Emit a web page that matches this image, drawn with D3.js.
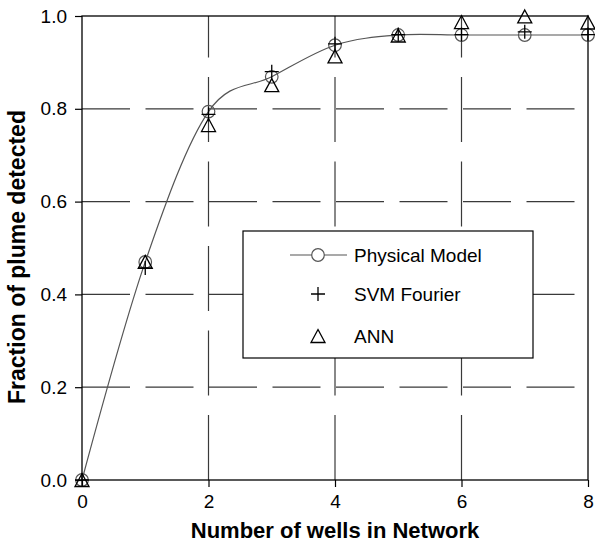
<!DOCTYPE html>
<html>
<head>
<meta charset="utf-8">
<script src="https://cdn.jsdelivr.net/npm/d3@7"></script>
<style>
  body { margin: 0; background: #fff; }
  text { font-family: Arial, "Liberation Sans", sans-serif; fill: #000; }
</style>
</head>
<body>
<div id="chart"></div>
<script>
// values
var wells = [0, 1, 2, 3, 4, 5, 6, 7, 8];
var physicalModel = [0, 0.47, 0.794, 0.869, 0.937, 0.959, 0.959, 0.959, 0.959];
var svmFourier = [0, 0.457, 0.788, 0.88, 0.94, 0.96, 0.96, 0.966, 0.96];
var ann = [0, 0.47, 0.765, 0.851, 0.913, 0.958, 0.987, 0.999, 0.986];
var xTicks = [0, 2, 4, 6, 8];
var yTicks = [0, 0.2, 0.4, 0.6, 0.8, 1.0];
var legendLabels = ["Physical Model", "SVM Fourier", "ANN"];

var W = 595, H = 544;
var margin = { left: 82, right: 7, top: 16, bottom: 64 };

var svg = d3.select('#chart').append('svg')
    .attr('width', W).attr('height', H);

var x = d3.scaleLinear().domain([0, 8]).range([margin.left, W - margin.right]);
var y = d3.scaleLinear().domain([0, 1]).range([H - margin.bottom, margin.top]);

var gridColor = '#3a3a3a';

// horizontal gridlines (dashes start at the left axis)
svg.append('g').selectAll('line')
    .data(yTicks.filter(function (d) { return d > 0 && d < 1; }))
    .join('line')
    .attr('x1', x(0)).attr('x2', x(8))
    .attr('y1', d => y(d)).attr('y2', d => y(d))
    .attr('stroke', gridColor).attr('stroke-width', 1.2)
    .attr('stroke-dasharray', '48,15.5');

// vertical gridlines (dashes start at the bottom)
svg.append('g').selectAll('line')
    .data(xTicks.filter(function (d) { return d > 0 && d < 8; }))
    .join('line')
    .attr('x1', d => x(d)).attr('x2', d => x(d))
    .attr('y1', y(0)).attr('y2', y(1))
    .attr('stroke', gridColor).attr('stroke-width', 1.2)
    .attr('stroke-dasharray', '65,19.5');

// axes
var yAxis = d3.axisLeft(y).tickValues(yTicks).tickFormat(d3.format('.1f'))
    .tickSize(7).tickPadding(8);
var xAxis = d3.axisBottom(x).tickValues(xTicks).tickFormat(d3.format('d'))
    .tickSize(7).tickPadding(8);

var gy = svg.append('g').attr('transform', 'translate(' + margin.left + ',0)').call(yAxis);
var gx = svg.append('g').attr('transform', 'translate(0,' + (H - margin.bottom) + ')').call(xAxis);
[gx, gy].forEach(function (g) {
    g.select('.domain').remove();
    g.selectAll('.tick line').attr('stroke', '#000').attr('stroke-width', 1.2);
    g.selectAll('.tick text').style('font-size', '19px').attr('fill', '#000');
});

// plot frame
svg.append('rect')
    .attr('x', x(0)).attr('y', y(1))
    .attr('width', x(8) - x(0)).attr('height', y(0) - y(1))
    .attr('fill', 'none').attr('stroke', '#000').attr('stroke-width', 1.3);

// axis titles
svg.append('text')
    .attr('x', (x(0) + x(8)) / 2).attr('y', 538)
    .attr('text-anchor', 'middle')
    .style('font-size', '22px').style('font-weight', 'bold')
    .text('Number of wells in Network');

svg.append('text')
    .attr('transform', 'translate(25,257) rotate(-90)')
    .attr('text-anchor', 'middle')
    .style('font-size', '23px').style('font-weight', 'bold')
    .text('Fraction of plume detected');

// marker shapes
function plusPath(s) { return 'M' + (-s) + ',0H' + s + 'M0,' + (-s) + 'V' + s; }
function triPath(w, h) {
    return 'M0,' + (-h / 2) + 'L' + (w / 2) + ',' + (h / 2) + 'L' + (-w / 2) + ',' + (h / 2) + 'Z';
}

var lineColor = '#555';

// physical model line
var pmData = wells.map(function (w, i) { return { w: w, v: physicalModel[i] }; });
var line = d3.line().x(d => x(d.w)).y(d => y(d.v)).curve(d3.curveCardinal.tension(0));
svg.append('path')
    .attr('d', line(pmData))
    .attr('fill', 'none').attr('stroke', lineColor).attr('stroke-width', 1.2);

svg.append('g').selectAll('circle')
    .data(pmData).join('circle')
    .attr('cx', d => x(d.w)).attr('cy', d => y(d.v)).attr('r', 6.3)
    .attr('fill', 'none').attr('stroke', lineColor).attr('stroke-width', 1.2);

// SVM Fourier
svg.append('g').selectAll('path')
    .data(wells.map(function (w, i) { return { w: w, v: svmFourier[i] }; }))
    .join('path')
    .attr('transform', d => 'translate(' + x(d.w) + ',' + y(d.v) + ')')
    .attr('d', plusPath(7))
    .attr('fill', 'none').attr('stroke', '#000').attr('stroke-width', 1.3);

// ANN
svg.append('g').selectAll('path')
    .data(wells.map(function (w, i) { return { w: w, v: ann[i] }; }))
    .join('path')
    .attr('transform', d => 'translate(' + x(d.w) + ',' + y(d.v) + ')')
    .attr('d', triPath(14, 13))
    .attr('fill', 'none').attr('stroke', '#000').attr('stroke-width', 1.3);

// legend
var lg = svg.append('g');
lg.append('rect')
    .attr('x', 243).attr('y', 231).attr('width', 290).attr('height', 127)
    .attr('fill', '#fff').attr('stroke', '#000').attr('stroke-width', 1.2);

var legendY = [255, 294, 336];
lg.append('line')
    .attr('x1', 290).attr('x2', 347).attr('y1', legendY[0]).attr('y2', legendY[0])
    .attr('stroke', lineColor).attr('stroke-width', 1.2);
lg.append('circle')
    .attr('cx', 318).attr('cy', legendY[0]).attr('r', 6.3)
    .attr('fill', '#fff').attr('stroke', lineColor).attr('stroke-width', 1.2);
lg.append('path')
    .attr('transform', 'translate(318,' + legendY[1] + ')')
    .attr('d', plusPath(7))
    .attr('fill', 'none').attr('stroke', '#000').attr('stroke-width', 1.3);
lg.append('path')
    .attr('transform', 'translate(318,' + legendY[2] + ')')
    .attr('d', triPath(14, 13))
    .attr('fill', 'none').attr('stroke', '#000').attr('stroke-width', 1.3);

lg.selectAll('text.lab')
    .data(legendLabels).join('text')
    .attr('class', 'lab')
    .attr('x', 354).attr('y', (d, i) => legendY[i])
    .attr('dy', '0.35em')
    .style('font-size', '19px')
    .text(d => d);
</script>
</body>
</html>
